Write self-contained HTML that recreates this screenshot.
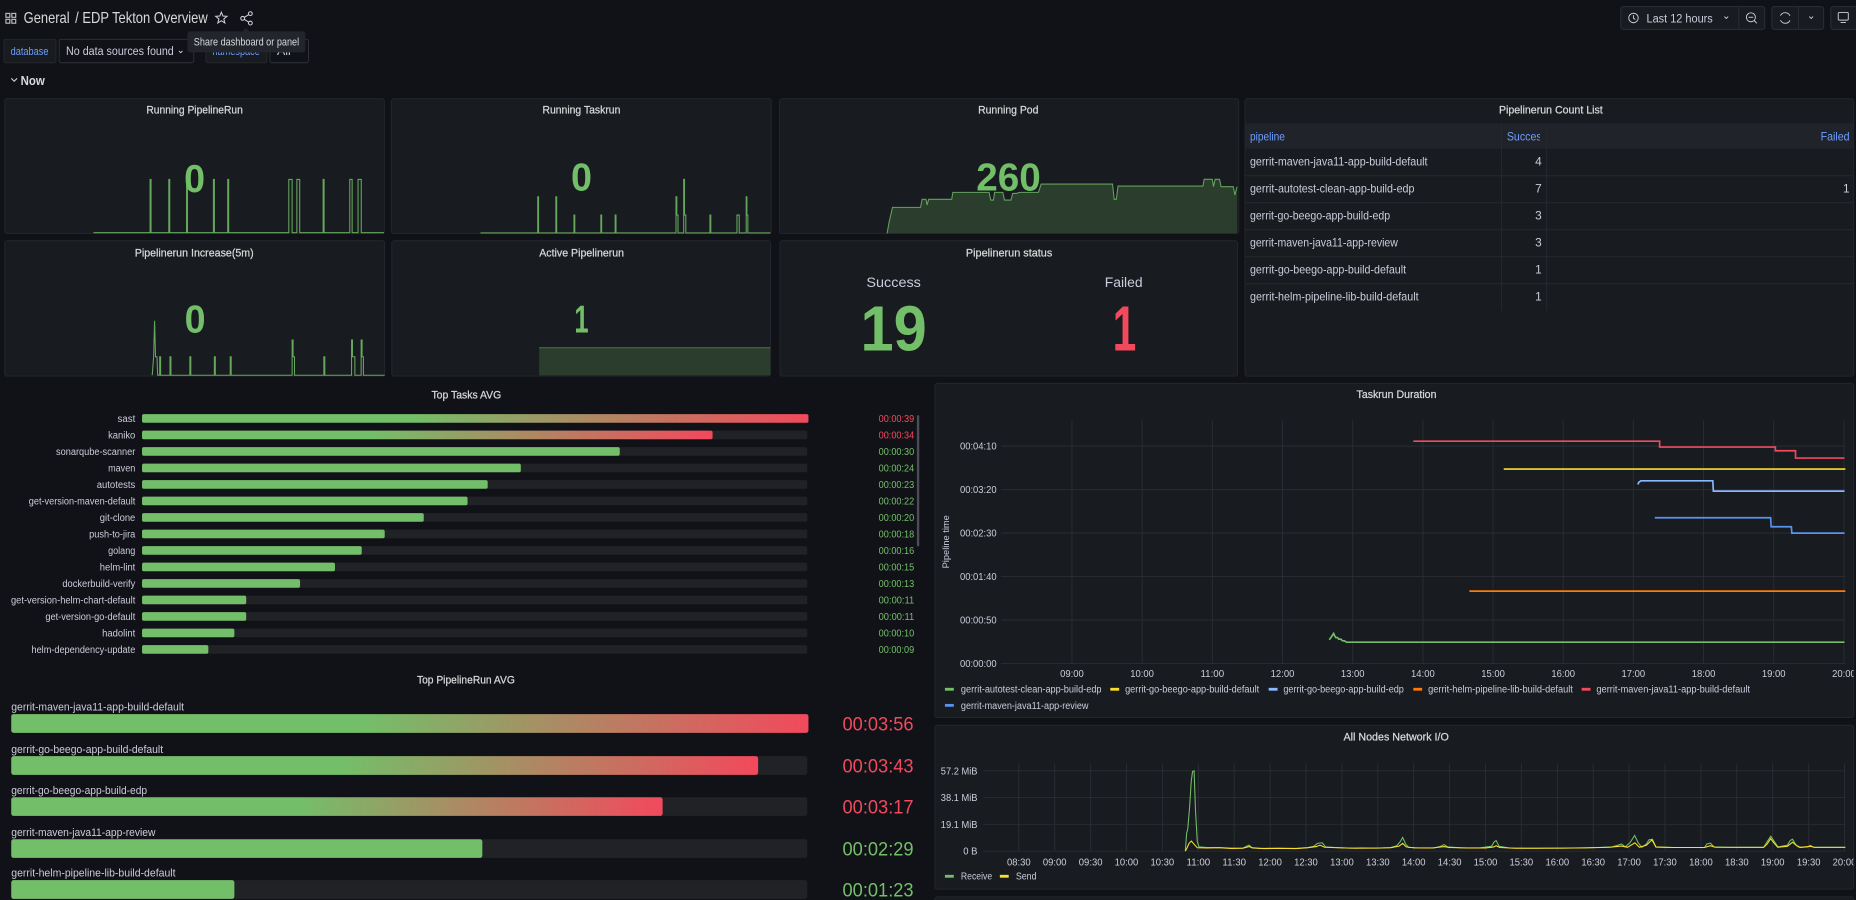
<!DOCTYPE html>
<html><head><meta charset="utf-8"><style>
html,body{margin:0;padding:0;background:#111217;overflow:hidden;}
svg{display:block;}
text{font-family:"Liberation Sans",sans-serif;}
</style></head><body>
<svg width="1856" height="900" viewBox="0 0 1568 760.34" xmlns="http://www.w3.org/2000/svg">
<defs>
<linearGradient id="g1" x1="0" y1="0" x2="1" y2="0"><stop offset="0" stop-color="#73bf69"/><stop offset="0.4" stop-color="#73bf69"/><stop offset="1" stop-color="#f2495c"/></linearGradient>
<linearGradient id="g2" x1="0" y1="0" x2="1" y2="0"><stop offset="0" stop-color="#73bf69"/><stop offset="0.44" stop-color="#73bf69"/><stop offset="1" stop-color="#f2495c"/></linearGradient>
<clipPath id="cTR"><rect x="790" y="324" width="776" height="282"/></clipPath>
<clipPath id="cNW"><rect x="790" y="613" width="776" height="138"/></clipPath>
<clipPath id="cHd"><rect x="1269" y="104" width="32" height="22"/></clipPath>
</defs>
<rect x="0" y="0" width="1568" height="761" fill="#111217"/>

<!-- Header -->
<g fill="none" stroke="#c7c8cc" stroke-width="0.9">
<rect x="5" y="11.3" width="3.3" height="3.3"/><rect x="10" y="11.3" width="3.3" height="3.3"/>
<rect x="5" y="16.3" width="3.3" height="3.3"/><rect x="10" y="16.3" width="3.3" height="3.3"/>
</g>
<text x="20" y="19.6" font-size="13" fill="#d8d9da" textLength="38.8" lengthAdjust="spacingAndGlyphs">General</text>
<text x="63.5" y="19.6" font-size="13" fill="#d8d9da" textLength="112" lengthAdjust="spacingAndGlyphs">/ EDP Tekton Overview</text>
<polygon points="187,10.3 188.29,13.52 191.76,13.76 189.09,15.98 189.94,19.35 187,17.5 184.06,19.35 184.91,15.98 182.24,13.76 185.71,13.52" fill="none" stroke="#ccccdc" stroke-width="0.9"/>
<g fill="none" stroke="#ccccdc" stroke-width="0.9">
<circle cx="211.5" cy="11.5" r="1.6"/><circle cx="205" cy="15.5" r="1.6"/><circle cx="211.5" cy="19.5" r="1.6"/>
<line x1="206.4" y1="14.7" x2="210.1" y2="12.3"/><line x1="206.4" y1="16.3" x2="210.1" y2="18.7"/>
</g>

<!-- Variables row -->
<rect x="3.3" y="33.2" width="44" height="19.8" rx="1.5" fill="#181b1f" stroke="#25282e" stroke-width="0.8"/>
<text x="9" y="46.3" font-size="9" fill="#6e9fff" textLength="32" lengthAdjust="spacingAndGlyphs">database</text>
<rect x="50" y="33.2" width="113.7" height="19.8" rx="1.5" fill="#111217" stroke="#2f3238" stroke-width="0.8"/>
<text x="55.8" y="46.5" font-size="10.5" fill="#ccccdc" textLength="91" lengthAdjust="spacingAndGlyphs">No data sources found</text>
<polyline points="151.2,43 152.7,44.5 154.2,43" fill="none" stroke="#ccccdc" stroke-width="0.8"/>
<rect x="174" y="33.2" width="51.5" height="19.8" rx="1.5" fill="#181b1f" stroke="#25282e" stroke-width="0.8"/>
<text x="179.5" y="46.3" font-size="9" fill="#6e9fff" textLength="40" lengthAdjust="spacingAndGlyphs">namespace</text>
<rect x="228" y="33.2" width="32.6" height="19.8" rx="1.5" fill="#111217" stroke="#2f3238" stroke-width="0.8"/>
<text x="234" y="46.5" font-size="10.5" fill="#ccccdc">All</text>
<!-- tooltip -->
<polygon points="204.8,26.6 207.8,23.6 210.8,26.6" fill="#22252b"/>
<rect x="158.4" y="26.5" width="99.6" height="17.7" rx="2" fill="#22252b"/>
<text x="163.7" y="38.6" font-size="9" fill="#d8d9da" textLength="89" lengthAdjust="spacingAndGlyphs">Share dashboard or panel</text>

<!-- Now row -->
<polyline points="9.6,66.2 12,68.6 14.4,66.2" fill="none" stroke="#d8d9da" stroke-width="0.9"/>
<text x="17.4" y="71.6" font-size="11" font-weight="bold" fill="#d8d9da" textLength="20.4" lengthAdjust="spacingAndGlyphs">Now</text>

<!-- Top right controls -->
<rect x="1369.3" y="5.6" width="121.6" height="19.2" rx="2" fill="#181b1f" stroke="#2c2f36" stroke-width="0.8"/>
<line x1="1469" y1="5.6" x2="1469" y2="24.8" stroke="#2c2f36" stroke-width="0.8"/>
<circle cx="1380" cy="15.2" r="4" fill="none" stroke="#ccccdc" stroke-width="0.8"/>
<polyline points="1380,12.8 1380,15.4 1381.6,16.4" fill="none" stroke="#ccccdc" stroke-width="0.8"/>
<text x="1391" y="18.9" font-size="10.5" fill="#ccccdc" textLength="56" lengthAdjust="spacingAndGlyphs">Last 12 hours</text>
<polyline points="1456.8,14 1458.4,15.6 1460,14" fill="none" stroke="#ccccdc" stroke-width="0.8"/>
<circle cx="1479.2" cy="14.6" r="3.8" fill="none" stroke="#ccccdc" stroke-width="0.8"/>
<line x1="1481.9" y1="17.3" x2="1484.3" y2="19.7" stroke="#ccccdc" stroke-width="0.8"/>
<line x1="1477.2" y1="14.6" x2="1481.2" y2="14.6" stroke="#ccccdc" stroke-width="0.8"/>
<rect x="1496.9" y="5.6" width="43.8" height="19.2" rx="2" fill="#181b1f" stroke="#2c2f36" stroke-width="0.8"/>
<line x1="1519.5" y1="5.6" x2="1519.5" y2="24.8" stroke="#2c2f36" stroke-width="0.8"/>
<path d="M1504.2,13.2 A4.4,4.4 0 0 1 1512.2,13.4 M1512.2,17.2 A4.4,4.4 0 0 1 1504.2,17" fill="none" stroke="#ccccdc" stroke-width="0.8"/>
<polyline points="1528.5,14 1530.1,15.6 1531.7,14" fill="none" stroke="#ccccdc" stroke-width="0.8"/>
<rect x="1546.7" y="5.6" width="22" height="19.2" rx="2" fill="#181b1f" stroke="#2c2f36" stroke-width="0.8"/>
<rect x="1553" y="10.5" width="8.5" height="6.5" rx="1" fill="none" stroke="#ccccdc" stroke-width="0.8"/>
<line x1="1555" y1="19" x2="1559.5" y2="19" stroke="#ccccdc" stroke-width="0.8"/>

<!-- Panels backgrounds -->
<g fill="#181b1f" stroke="#24272d" stroke-width="0.8">
<rect x="4" y="83.4" width="320.7" height="113.8" rx="2"/>
<rect x="330.6" y="83.4" width="321" height="113.8" rx="2"/>
<rect x="658.5" y="83.4" width="388" height="113.8" rx="2"/>
<rect x="1051.8" y="83.4" width="514.2" height="234.4" rx="2"/>
<rect x="4" y="203.4" width="321" height="114.3" rx="2"/>
<rect x="331" y="203.4" width="320" height="114.3" rx="2"/>
<rect x="659" y="203.4" width="386.5" height="114.3" rx="2"/>
<rect x="789.8" y="323.9" width="776.2" height="282.3" rx="2"/>
<rect x="789.8" y="612.7" width="776.2" height="138.5" rx="2"/>
<rect x="789.8" y="757.7" width="776.2" height="10" rx="2"/>
</g>

<!-- Panel titles -->
<g font-size="9.5" fill="#d8d9da" stroke="#d8d9da" stroke-width="0.2" text-anchor="middle">
<text x="164.4" y="95.8" textLength="81.5" lengthAdjust="spacingAndGlyphs">Running PipelineRun</text>
<text x="491.2" y="95.8" textLength="65.8" lengthAdjust="spacingAndGlyphs">Running Taskrun</text>
<text x="851.8" y="95.8" textLength="51" lengthAdjust="spacingAndGlyphs">Running Pod</text>
<text x="1310.2" y="95.8" textLength="87.7" lengthAdjust="spacingAndGlyphs">Pipelinerun Count List</text>
<text x="164.1" y="216.6" textLength="100.5" lengthAdjust="spacingAndGlyphs">Pipelinerun Increase(5m)</text>
<text x="491.4" y="216.6" textLength="71.7" lengthAdjust="spacingAndGlyphs">Active Pipelinerun</text>
<text x="852.5" y="216.6" textLength="73" lengthAdjust="spacingAndGlyphs">Pipelinerun status</text>
<text x="394" y="336.5" textLength="59" lengthAdjust="spacingAndGlyphs">Top Tasks AVG</text>
<text x="1179.8" y="336.4" textLength="67.5" lengthAdjust="spacingAndGlyphs">Taskrun Duration</text>
<text x="1179.5" y="625.5" textLength="89" lengthAdjust="spacingAndGlyphs">All Nodes Network I/O</text>
<text x="393.6" y="577.4" textLength="82.7" lengthAdjust="spacingAndGlyphs">Top PipelineRun AVG</text>
</g>

<!-- Sparklines -->
<g fill="none" stroke="#73bf69" stroke-width="0.9" stroke-opacity="0.85">
<path d="M79,196.6 H126.8 V151.6 H127.6 V196.6 H142.6 V151.6 H143.4 V196.6 H157.6 V151.6 H158.4 V196.6 H180.3 V151.6 H181.1 V196.6 H192.4 V151.6 H193.2 V196.6 H244 V151.6 H246.8 V196.6 H250.8 V151.6 H253.2 V196.6 H273 V151.6 H273.8 V196.6 H295.5 V151.6 H297.5 V196.6 H302.5 V151.6 H305.2 V196.6 H324.5"/>
<path d="M405.9,196.8 H454.3 V166.2 H455 V196.8 H469.6 V166.2 H470.3 V196.8 H484.9 V181.7 H485.6 V196.8 H507.6 V181.7 H508.3 V196.8 H519.7 V181.7 H520.4 V196.8 H571.1 V166.2 H571.8 V181.7 H572.8 V196.8 H577.6 V151.5 H578.3 V181.7 H579.4 V196.8 H599.8 V181.7 H600.5 V196.8 H622.6 V181.7 H624.5 V196.8 H630.4 V166.2 H631 V181.7 H631.8 V196.8 H651"/>
<path d="M128.6,317 L129.8,301.4 L130.6,271 L131.4,301.4 L132.6,301.4 L133.2,317 H134.9 V301.4 H135.7 V317 H143.6 V301.4 H144.4 V317 H160.4 V301.4 H161.2 V317 H181.1 V301.4 H181.9 V317 H194.5 V301.4 H195.3 V317 H246.8 V287.3 H247.6 V301.4 H248.8 V317 H273.6 V301.4 H274.4 V317 H297 V287.3 H297.8 V301.4 H299.8 V317 H305.1 V287.3 H305.9 V301.4 H307 V317 H325"/>
</g>
<path d="M749.4,197.2 L751.2,187.3 L754,175.2 L777.7,175.2 L779,168.4 L782.3,168.4 L783.2,173.2 L784.6,168.4 L804,168.4 L805,162.5 L835.6,162.5 L837,169 L839.3,169 L840.2,162.5 L847.2,162.5 L848.6,169 L854.1,169 L855.5,163.4 L858.8,163.4 L861.1,162.5 L877.3,162.5 L879.6,155.5 L939.9,155.5 L941.3,168.4 L943.1,168.4 L944.5,157.2 L1016.3,157.2 L1017.3,151.5 L1024.2,151.5 L1025.2,157.7 L1026.6,151.5 L1030.3,151.5 L1031.6,157.7 L1041.9,157.7 L1043.3,164.8 L1045.1,157.7 L1045.1,197.2 Z" fill="#2b3d2d"/>
<path d="M749.4,197.2 L751.2,187.3 L754,175.2 L777.7,175.2 L779,168.4 L782.3,168.4 L783.2,173.2 L784.6,168.4 L804,168.4 L805,162.5 L835.6,162.5 L837,169 L839.3,169 L840.2,162.5 L847.2,162.5 L848.6,169 L854.1,169 L855.5,163.4 L858.8,163.4 L861.1,162.5 L877.3,162.5 L879.6,155.5 L939.9,155.5 L941.3,168.4 L943.1,168.4 L944.5,157.2 L1016.3,157.2 L1017.3,151.5 L1024.2,151.5 L1025.2,157.7 L1026.6,151.5 L1030.3,151.5 L1031.6,157.7 L1041.9,157.7 L1043.3,164.8 L1045.1,157.7" fill="none" stroke="#73bf69" stroke-width="0.9" stroke-opacity="0.8"/>
<rect x="455.5" y="293.5" width="195.3" height="23.6" fill="#2b3d2d"/>
<line x1="455.5" y1="293.8" x2="650.8" y2="293.8" stroke="#73bf69" stroke-opacity="0.45" stroke-width="0.9"/>

<!-- Big stat values -->
<g fill="#73bf69" text-anchor="middle" font-size="33" font-weight="bold">
<text x="164.4" y="162" textLength="17.7" lengthAdjust="spacingAndGlyphs">0</text>
<text x="491.2" y="161" textLength="17.7" lengthAdjust="spacingAndGlyphs">0</text>
<text x="852" y="161" textLength="54.5" lengthAdjust="spacingAndGlyphs">260</text>
<text x="164.8" y="281" textLength="17.7" lengthAdjust="spacingAndGlyphs">0</text>
<text x="491.2" y="281" textLength="12" lengthAdjust="spacingAndGlyphs">1</text>
</g>
<text x="755" y="242.6" font-size="12" fill="#ccccdc" text-anchor="middle" textLength="46" lengthAdjust="spacingAndGlyphs">Success</text>
<text x="949.3" y="242.6" font-size="12" fill="#ccccdc" text-anchor="middle" textLength="32" lengthAdjust="spacingAndGlyphs">Failed</text>
<text x="755" y="296.3" font-size="54" font-weight="bold" fill="#73bf69" text-anchor="middle" textLength="56" lengthAdjust="spacingAndGlyphs">19</text>
<text x="950" y="296.3" font-size="54" font-weight="bold" fill="#f2495c" text-anchor="middle" textLength="20" lengthAdjust="spacingAndGlyphs">1</text>

<!-- Count list table -->
<rect x="1052.3" y="104.2" width="513.2" height="21.4" fill="#202329"/>
<g stroke="#26292f" stroke-width="0.8">
<line x1="1052.3" y1="148.5" x2="1565.5" y2="148.5"/>
<line x1="1052.3" y1="171.3" x2="1565.5" y2="171.3"/>
<line x1="1052.3" y1="194.1" x2="1565.5" y2="194.1"/>
<line x1="1052.3" y1="216.9" x2="1565.5" y2="216.9"/>
<line x1="1052.3" y1="239.7" x2="1565.5" y2="239.7"/>
<line x1="1268.5" y1="104.2" x2="1268.5" y2="262.5"/>
<line x1="1306.7" y1="104.2" x2="1306.7" y2="262.5"/>
</g>
<text x="1056" y="118.6" font-size="10" fill="#6e9fff" textLength="29.5" lengthAdjust="spacingAndGlyphs">pipeline</text>
<g clip-path="url(#cHd)"><text x="1273" y="118.6" font-size="10" fill="#6e9fff" textLength="34" lengthAdjust="spacingAndGlyphs">Success</text></g>
<text x="1562.6" y="118.6" font-size="10" fill="#6e9fff" text-anchor="end" textLength="24.5" lengthAdjust="spacingAndGlyphs">Failed</text>
<g font-size="10" fill="#ccccdc">
<text x="1056" y="139.8" textLength="150" lengthAdjust="spacingAndGlyphs">gerrit-maven-java11-app-build-default</text>
<text x="1056" y="162.7" textLength="139" lengthAdjust="spacingAndGlyphs">gerrit-autotest-clean-app-build-edp</text>
<text x="1056" y="185.5" textLength="118.4" lengthAdjust="spacingAndGlyphs">gerrit-go-beego-app-build-edp</text>
<text x="1056" y="208.3" textLength="125" lengthAdjust="spacingAndGlyphs">gerrit-maven-java11-app-review</text>
<text x="1056" y="231.1" textLength="131.9" lengthAdjust="spacingAndGlyphs">gerrit-go-beego-app-build-default</text>
<text x="1056" y="253.9" textLength="142.5" lengthAdjust="spacingAndGlyphs">gerrit-helm-pipeline-lib-build-default</text>
</g>
<g font-size="10" fill="#ccccdc" text-anchor="end">
<text x="1302.5" y="139.8">4</text>
<text x="1302.5" y="162.7">7</text>
<text x="1302.5" y="185.5">3</text>
<text x="1302.5" y="208.3">3</text>
<text x="1302.5" y="231.1">1</text>
<text x="1302.5" y="253.9">1</text>
<text x="1562.6" y="162.7">1</text>
</g>

<!-- Top Tasks AVG -->
<g fill="#202226">
<rect x="120" y="349.85" width="562" height="7.3" rx="1.5"/>
<rect x="120" y="363.79" width="562" height="7.3" rx="1.5"/>
<rect x="120" y="377.73" width="562" height="7.3" rx="1.5"/>
<rect x="120" y="391.67" width="562" height="7.3" rx="1.5"/>
<rect x="120" y="405.61" width="562" height="7.3" rx="1.5"/>
<rect x="120" y="419.55" width="562" height="7.3" rx="1.5"/>
<rect x="120" y="433.49" width="562" height="7.3" rx="1.5"/>
<rect x="120" y="447.43" width="562" height="7.3" rx="1.5"/>
<rect x="120" y="461.37" width="562" height="7.3" rx="1.5"/>
<rect x="120" y="475.31" width="562" height="7.3" rx="1.5"/>
<rect x="120" y="489.25" width="562" height="7.3" rx="1.5"/>
<rect x="120" y="503.19" width="562" height="7.3" rx="1.5"/>
<rect x="120" y="517.13" width="562" height="7.3" rx="1.5"/>
<rect x="120" y="531.07" width="562" height="7.3" rx="1.5"/>
<rect x="120" y="545.01" width="562" height="7.3" rx="1.5"/>
</g>
<rect x="120" y="349.85" width="563" height="7.3" rx="1.5" fill="url(#g1)"/>
<rect x="120" y="363.79" width="482" height="7.3" rx="1.5" fill="url(#g1)"/>
<g fill="#73bf69">
<rect x="120" y="377.73" width="403.6" height="7.3" rx="1.5"/>
<rect x="120" y="391.67" width="320" height="7.3" rx="1.5"/>
<rect x="120" y="405.61" width="292" height="7.3" rx="1.5"/>
<rect x="120" y="419.55" width="275" height="7.3" rx="1.5"/>
<rect x="120" y="433.49" width="238" height="7.3" rx="1.5"/>
<rect x="120" y="447.43" width="205" height="7.3" rx="1.5"/>
<rect x="120" y="461.37" width="185.6" height="7.3" rx="1.5"/>
<rect x="120" y="475.31" width="163" height="7.3" rx="1.5"/>
<rect x="120" y="489.25" width="133.5" height="7.3" rx="1.5"/>
<rect x="120" y="503.19" width="88" height="7.3" rx="1.5"/>
<rect x="120" y="517.13" width="88" height="7.3" rx="1.5"/>
<rect x="120" y="531.07" width="78" height="7.3" rx="1.5"/>
<rect x="120" y="545.01" width="56" height="7.3" rx="1.5"/>
</g>
<g font-size="8.5" fill="#ccccdc" text-anchor="end">
<text x="114.3" y="356.5" textLength="15" lengthAdjust="spacingAndGlyphs">sast</text>
<text x="114.3" y="370.44" textLength="23" lengthAdjust="spacingAndGlyphs">kaniko</text>
<text x="114.3" y="384.38" textLength="67" lengthAdjust="spacingAndGlyphs">sonarqube-scanner</text>
<text x="114.3" y="398.32" textLength="23" lengthAdjust="spacingAndGlyphs">maven</text>
<text x="114.3" y="412.26" textLength="32.6" lengthAdjust="spacingAndGlyphs">autotests</text>
<text x="114.3" y="426.2" textLength="90" lengthAdjust="spacingAndGlyphs">get-version-maven-default</text>
<text x="114.3" y="440.14" textLength="30" lengthAdjust="spacingAndGlyphs">git-clone</text>
<text x="114.3" y="454.08" textLength="39" lengthAdjust="spacingAndGlyphs">push-to-jira</text>
<text x="114.3" y="468.02" textLength="23" lengthAdjust="spacingAndGlyphs">golang</text>
<text x="114.3" y="481.96" textLength="30" lengthAdjust="spacingAndGlyphs">helm-lint</text>
<text x="114.3" y="495.9" textLength="61.6" lengthAdjust="spacingAndGlyphs">dockerbuild-verify</text>
<text x="114.3" y="509.84" textLength="105" lengthAdjust="spacingAndGlyphs">get-version-helm-chart-default</text>
<text x="114.3" y="523.78" textLength="76" lengthAdjust="spacingAndGlyphs">get-version-go-default</text>
<text x="114.3" y="537.72" textLength="28" lengthAdjust="spacingAndGlyphs">hadolint</text>
<text x="114.3" y="551.66" textLength="87.7" lengthAdjust="spacingAndGlyphs">helm-dependency-update</text>
</g>
<g font-size="8.5" text-anchor="end">
<text x="772.3" y="356.5" fill="#f2495c" textLength="30" lengthAdjust="spacingAndGlyphs">00:00:39</text>
<text x="772.3" y="370.44" fill="#f2495c" textLength="30" lengthAdjust="spacingAndGlyphs">00:00:34</text>
<text x="772.3" y="384.38" fill="#73bf69" textLength="30" lengthAdjust="spacingAndGlyphs">00:00:30</text>
<text x="772.3" y="398.32" fill="#73bf69" textLength="30" lengthAdjust="spacingAndGlyphs">00:00:24</text>
<text x="772.3" y="412.26" fill="#73bf69" textLength="30" lengthAdjust="spacingAndGlyphs">00:00:23</text>
<text x="772.3" y="426.2" fill="#73bf69" textLength="30" lengthAdjust="spacingAndGlyphs">00:00:22</text>
<text x="772.3" y="440.14" fill="#73bf69" textLength="30" lengthAdjust="spacingAndGlyphs">00:00:20</text>
<text x="772.3" y="454.08" fill="#73bf69" textLength="30" lengthAdjust="spacingAndGlyphs">00:00:18</text>
<text x="772.3" y="468.02" fill="#73bf69" textLength="30" lengthAdjust="spacingAndGlyphs">00:00:16</text>
<text x="772.3" y="481.96" fill="#73bf69" textLength="30" lengthAdjust="spacingAndGlyphs">00:00:15</text>
<text x="772.3" y="495.9" fill="#73bf69" textLength="30" lengthAdjust="spacingAndGlyphs">00:00:13</text>
<text x="772.3" y="509.84" fill="#73bf69" textLength="30" lengthAdjust="spacingAndGlyphs">00:00:11</text>
<text x="772.3" y="523.78" fill="#73bf69" textLength="30" lengthAdjust="spacingAndGlyphs">00:00:11</text>
<text x="772.3" y="537.72" fill="#73bf69" textLength="30" lengthAdjust="spacingAndGlyphs">00:00:10</text>
<text x="772.3" y="551.66" fill="#73bf69" textLength="30" lengthAdjust="spacingAndGlyphs">00:00:09</text>
</g>
<rect x="774.6" y="350.7" width="2" height="111" rx="1" fill="#4a4d55"/>

<!-- Top PipelineRun AVG -->
<g fill="#202226">
<rect x="9.5" y="603.3" width="672.5" height="15.8" rx="2"/>
<rect x="9.5" y="638.8" width="672.5" height="15.8" rx="2"/>
<rect x="9.5" y="673.5" width="672.5" height="15.8" rx="2"/>
<rect x="9.5" y="709" width="672.5" height="15.8" rx="2"/>
<rect x="9.5" y="743.6" width="672.5" height="15.8" rx="2"/>
</g>
<rect x="9.5" y="603.3" width="673.5" height="15.8" rx="2" fill="url(#g2)"/>
<rect x="9.5" y="638.8" width="631" height="15.8" rx="2" fill="url(#g2)"/>
<rect x="9.5" y="673.5" width="550.3" height="15.8" rx="2" fill="url(#g2)"/>
<rect x="9.5" y="709" width="398" height="15.8" rx="2" fill="#73bf69"/>
<rect x="9.5" y="743.6" width="188.5" height="15.8" rx="2" fill="#73bf69"/>
<g font-size="9" fill="#ccccdc">
<text x="9.5" y="600.3" textLength="146" lengthAdjust="spacingAndGlyphs">gerrit-maven-java11-app-build-default</text>
<text x="9.5" y="636.1" textLength="128.3" lengthAdjust="spacingAndGlyphs">gerrit-go-beego-app-build-default</text>
<text x="9.5" y="670.8" textLength="114.8" lengthAdjust="spacingAndGlyphs">gerrit-go-beego-app-build-edp</text>
<text x="9.5" y="706.2" textLength="121.8" lengthAdjust="spacingAndGlyphs">gerrit-maven-java11-app-review</text>
<text x="9.5" y="740.3" textLength="138.8" lengthAdjust="spacingAndGlyphs">gerrit-helm-pipeline-lib-build-default</text>
</g>
<g font-size="16" text-anchor="end">
<text x="771.8" y="617" fill="#f2495c" textLength="60" lengthAdjust="spacingAndGlyphs">00:03:56</text>
<text x="771.8" y="652.5" fill="#f2495c" textLength="60" lengthAdjust="spacingAndGlyphs">00:03:43</text>
<text x="771.8" y="687.2" fill="#f2495c" textLength="60" lengthAdjust="spacingAndGlyphs">00:03:17</text>
<text x="771.8" y="722.7" fill="#73bf69" textLength="60" lengthAdjust="spacingAndGlyphs">00:02:29</text>
<text x="771.8" y="757.3" fill="#73bf69" textLength="60" lengthAdjust="spacingAndGlyphs">00:01:23</text>
</g>

<!-- Taskrun Duration chart -->
<g clip-path="url(#cTR)">
<g stroke="#2a2d33" stroke-width="0.8">
<line x1="845.7" y1="376.9" x2="1559" y2="376.9"/>
<line x1="845.7" y1="413.6" x2="1559" y2="413.6"/>
<line x1="845.7" y1="450.3" x2="1559" y2="450.3"/>
<line x1="845.7" y1="487.1" x2="1559" y2="487.1"/>
<line x1="845.7" y1="523.8" x2="1559" y2="523.8"/>
<line x1="845.7" y1="560.5" x2="1559" y2="560.5"/>
<line x1="905.6" y1="355" x2="905.6" y2="560.5"/>
<line x1="964.9" y1="355" x2="964.9" y2="560.5"/>
<line x1="1024.2" y1="355" x2="1024.2" y2="560.5"/>
<line x1="1083.5" y1="355" x2="1083.5" y2="560.5"/>
<line x1="1142.8" y1="355" x2="1142.8" y2="560.5"/>
<line x1="1202.1" y1="355" x2="1202.1" y2="560.5"/>
<line x1="1261.4" y1="355" x2="1261.4" y2="560.5"/>
<line x1="1320.6" y1="355" x2="1320.6" y2="560.5"/>
<line x1="1379.9" y1="355" x2="1379.9" y2="560.5"/>
<line x1="1439.2" y1="355" x2="1439.2" y2="560.5"/>
<line x1="1498.5" y1="355" x2="1498.5" y2="560.5"/>
<line x1="1557.8" y1="355" x2="1557.8" y2="560.5"/>
</g>
<g font-size="8.5" fill="#ccccdc" text-anchor="end">
<text x="842" y="379.9" textLength="31" lengthAdjust="spacingAndGlyphs">00:04:10</text>
<text x="842" y="416.6" textLength="31" lengthAdjust="spacingAndGlyphs">00:03:20</text>
<text x="842" y="453.3" textLength="31" lengthAdjust="spacingAndGlyphs">00:02:30</text>
<text x="842" y="490.1" textLength="31" lengthAdjust="spacingAndGlyphs">00:01:40</text>
<text x="842" y="526.8" textLength="31" lengthAdjust="spacingAndGlyphs">00:00:50</text>
<text x="842" y="563.5" textLength="31" lengthAdjust="spacingAndGlyphs">00:00:00</text>
</g>
<g font-size="8.5" fill="#ccccdc" text-anchor="middle">
<text x="905.6" y="572" textLength="20" lengthAdjust="spacingAndGlyphs">09:00</text>
<text x="964.9" y="572" textLength="20" lengthAdjust="spacingAndGlyphs">10:00</text>
<text x="1024.2" y="572" textLength="20" lengthAdjust="spacingAndGlyphs">11:00</text>
<text x="1083.5" y="572" textLength="20" lengthAdjust="spacingAndGlyphs">12:00</text>
<text x="1142.8" y="572" textLength="20" lengthAdjust="spacingAndGlyphs">13:00</text>
<text x="1202.1" y="572" textLength="20" lengthAdjust="spacingAndGlyphs">14:00</text>
<text x="1261.4" y="572" textLength="20" lengthAdjust="spacingAndGlyphs">15:00</text>
<text x="1320.6" y="572" textLength="20" lengthAdjust="spacingAndGlyphs">16:00</text>
<text x="1379.9" y="572" textLength="20" lengthAdjust="spacingAndGlyphs">17:00</text>
<text x="1439.2" y="572" textLength="20" lengthAdjust="spacingAndGlyphs">18:00</text>
<text x="1498.5" y="572" textLength="20" lengthAdjust="spacingAndGlyphs">19:00</text>
<text x="1557.8" y="572" textLength="20" lengthAdjust="spacingAndGlyphs">20:00</text>
</g>
<text transform="translate(801.6,457.7) rotate(-90)" font-size="7.5" fill="#ccccdc" text-anchor="middle" textLength="45" lengthAdjust="spacingAndGlyphs">Pipeline time</text>
<g fill="none" stroke-width="1.4">
<polyline stroke="#f2495c" points="1194,372.7 1402.1,372.7 1402.1,377.7 1499.9,377.7 1499.9,380.8 1516.9,380.8 1516.9,387 1558.3,387"/>
<polyline stroke="#fade2a" points="1270.4,396.3 1559,396.3"/>
<polyline stroke="#8ab8ff" points="1383.7,409.3 1384.5,407.5 1386.3,406.2 1447,406.2 1447.5,414.9 1558.3,414.9"/>
<polyline stroke="#5794f2" points="1398,437.4 1495.9,437.4 1496.3,445 1513.4,445 1513.8,450.4 1558.3,450.4"/>
<polyline stroke="#ff780a" points="1241.4,499.4 1559,499.4"/>
<polyline stroke="#73bf69" points="1123,540.5 1124.5,538.5 1125.5,537 1126.7,535.2 1127.5,537 1128.5,538.6 1130,538.6 1131,540 1133,540 1134,541.3 1136,541.5 1137.5,542.5 1558.3,542.5"/>
</g>
<rect x="798.3" y="581.1" width="7.5" height="2.4" fill="#73bf69"/>
<rect x="938" y="581.1" width="7.5" height="2.4" fill="#fade2a"/>
<rect x="1071.8" y="581.1" width="7.5" height="2.4" fill="#8ab8ff"/>
<rect x="1194" y="581.1" width="7.5" height="2.4" fill="#ff780a"/>
<rect x="1336.2" y="581.1" width="7.5" height="2.4" fill="#f2495c"/>
<rect x="798.3" y="594.7" width="7.5" height="2.4" fill="#5794f2"/>
<g font-size="8.5" fill="#ccccdc">
<text x="811.8" y="585.2" textLength="118.8" lengthAdjust="spacingAndGlyphs">gerrit-autotest-clean-app-build-edp</text>
<text x="950.5" y="585.2" textLength="113.3" lengthAdjust="spacingAndGlyphs">gerrit-go-beego-app-build-default</text>
<text x="1084.2" y="585.2" textLength="101.8" lengthAdjust="spacingAndGlyphs">gerrit-go-beego-app-build-edp</text>
<text x="1206.5" y="585.2" textLength="122.3" lengthAdjust="spacingAndGlyphs">gerrit-helm-pipeline-lib-build-default</text>
<text x="1348.7" y="585.2" textLength="129.8" lengthAdjust="spacingAndGlyphs">gerrit-maven-java11-app-build-default</text>
<text x="811.8" y="598.8" textLength="107.8" lengthAdjust="spacingAndGlyphs">gerrit-maven-java11-app-review</text>
</g>
</g>

<!-- Network I/O chart -->
<g clip-path="url(#cNW)">
<g stroke="#2a2d33" stroke-width="0.8">
<line x1="830.8" y1="651.2" x2="1559" y2="651.2"/>
<line x1="830.8" y1="673.8" x2="1559" y2="673.8"/>
<line x1="830.8" y1="696.4" x2="1559" y2="696.4"/>
<line x1="830.8" y1="719.1" x2="1559" y2="719.1"/>
<line x1="860.7" y1="645" x2="860.7" y2="719.1"/>
<line x1="891.0" y1="645" x2="891.0" y2="719.1"/>
<line x1="921.4" y1="645" x2="921.4" y2="719.1"/>
<line x1="951.7" y1="645" x2="951.7" y2="719.1"/>
<line x1="982.0" y1="645" x2="982.0" y2="719.1"/>
<line x1="1012.4" y1="645" x2="1012.4" y2="719.1"/>
<line x1="1042.7" y1="645" x2="1042.7" y2="719.1"/>
<line x1="1073.0" y1="645" x2="1073.0" y2="719.1"/>
<line x1="1103.3" y1="645" x2="1103.3" y2="719.1"/>
<line x1="1133.7" y1="645" x2="1133.7" y2="719.1"/>
<line x1="1164.0" y1="645" x2="1164.0" y2="719.1"/>
<line x1="1194.3" y1="645" x2="1194.3" y2="719.1"/>
<line x1="1224.7" y1="645" x2="1224.7" y2="719.1"/>
<line x1="1255.0" y1="645" x2="1255.0" y2="719.1"/>
<line x1="1285.3" y1="645" x2="1285.3" y2="719.1"/>
<line x1="1315.7" y1="645" x2="1315.7" y2="719.1"/>
<line x1="1346.0" y1="645" x2="1346.0" y2="719.1"/>
<line x1="1376.3" y1="645" x2="1376.3" y2="719.1"/>
<line x1="1406.6" y1="645" x2="1406.6" y2="719.1"/>
<line x1="1437.0" y1="645" x2="1437.0" y2="719.1"/>
<line x1="1467.3" y1="645" x2="1467.3" y2="719.1"/>
<line x1="1497.6" y1="645" x2="1497.6" y2="719.1"/>
<line x1="1528.0" y1="645" x2="1528.0" y2="719.1"/>
<line x1="1558.3" y1="645" x2="1558.3" y2="719.1"/>
</g>
<g font-size="8.5" fill="#ccccdc" text-anchor="end">
<text x="825.8" y="654.2" textLength="31" lengthAdjust="spacingAndGlyphs">57.2 MiB</text>
<text x="825.8" y="676.8" textLength="31" lengthAdjust="spacingAndGlyphs">38.1 MiB</text>
<text x="825.8" y="699.4" textLength="31" lengthAdjust="spacingAndGlyphs">19.1 MiB</text>
<text x="825.8" y="722.1" textLength="12" lengthAdjust="spacingAndGlyphs">0 B</text>
</g>
<g font-size="8.5" fill="#ccccdc" text-anchor="middle">
<text x="860.7" y="731.2" textLength="20" lengthAdjust="spacingAndGlyphs">08:30</text>
<text x="891.0" y="731.2" textLength="20" lengthAdjust="spacingAndGlyphs">09:00</text>
<text x="921.4" y="731.2" textLength="20" lengthAdjust="spacingAndGlyphs">09:30</text>
<text x="951.7" y="731.2" textLength="20" lengthAdjust="spacingAndGlyphs">10:00</text>
<text x="982.0" y="731.2" textLength="20" lengthAdjust="spacingAndGlyphs">10:30</text>
<text x="1012.4" y="731.2" textLength="20" lengthAdjust="spacingAndGlyphs">11:00</text>
<text x="1042.7" y="731.2" textLength="20" lengthAdjust="spacingAndGlyphs">11:30</text>
<text x="1073.0" y="731.2" textLength="20" lengthAdjust="spacingAndGlyphs">12:00</text>
<text x="1103.3" y="731.2" textLength="20" lengthAdjust="spacingAndGlyphs">12:30</text>
<text x="1133.7" y="731.2" textLength="20" lengthAdjust="spacingAndGlyphs">13:00</text>
<text x="1164.0" y="731.2" textLength="20" lengthAdjust="spacingAndGlyphs">13:30</text>
<text x="1194.3" y="731.2" textLength="20" lengthAdjust="spacingAndGlyphs">14:00</text>
<text x="1224.7" y="731.2" textLength="20" lengthAdjust="spacingAndGlyphs">14:30</text>
<text x="1255.0" y="731.2" textLength="20" lengthAdjust="spacingAndGlyphs">15:00</text>
<text x="1285.3" y="731.2" textLength="20" lengthAdjust="spacingAndGlyphs">15:30</text>
<text x="1315.7" y="731.2" textLength="20" lengthAdjust="spacingAndGlyphs">16:00</text>
<text x="1346.0" y="731.2" textLength="20" lengthAdjust="spacingAndGlyphs">16:30</text>
<text x="1376.3" y="731.2" textLength="20" lengthAdjust="spacingAndGlyphs">17:00</text>
<text x="1406.6" y="731.2" textLength="20" lengthAdjust="spacingAndGlyphs">17:30</text>
<text x="1437.0" y="731.2" textLength="20" lengthAdjust="spacingAndGlyphs">18:00</text>
<text x="1467.3" y="731.2" textLength="20" lengthAdjust="spacingAndGlyphs">18:30</text>
<text x="1497.6" y="731.2" textLength="20" lengthAdjust="spacingAndGlyphs">19:00</text>
<text x="1528.0" y="731.2" textLength="20" lengthAdjust="spacingAndGlyphs">19:30</text>
<text x="1558.3" y="731.2" textLength="20" lengthAdjust="spacingAndGlyphs">20:00</text>
</g>
<polyline fill="none" stroke="#73bf69" stroke-width="0.9" points="1001.4,719 1002.5,704 1003.5,700 1005,682 1006.4,660 1007.5,651.8 1008.8,651.2 1010,685 1011.5,711 1013,715.5 1020,716 1030,716 1040,716.5 1050,716.5 1053,715 1055.3,714 1057.5,716 1065,716.8 1075,716.6 1085,716.8 1095,716.8 1105,716 1110,715 1113,712.5 1117,712 1120,715.5 1128,716 1140,716.5 1150,716.3 1165,716.5 1175,716 1180,714.5 1183,711 1185,707.5 1187.5,713 1190,716 1200,716.3 1212,716.3 1217,715 1220,713.5 1223,715.5 1235,716.3 1250,716.3 1260,715 1262.5,711 1264,710.2 1266.5,715 1275,716.4 1290,716.6 1305,716.5 1320,716.5 1335,716.3 1350,716 1362,715.5 1367,714 1370,713 1373,715.5 1377,712 1381,705.8 1384,712 1387,715.8 1391,713 1393,709.5 1396,709 1399,715.5 1410,716 1425,716 1440,716 1442,713 1445,712.3 1448,715.5 1460,715.8 1475,715.8 1490,715.8 1493,711 1496,706.5 1499,711 1502,715.5 1510,714 1512.5,710 1514.4,709 1517,713.5 1520,715.8 1527,715.5 1529.5,714.2 1532,715.8 1545,715.8 1559,715.8"/>
<polyline fill="none" stroke="#fade2a" stroke-width="0.9" points="1001.4,719 1003,716 1004.5,712.5 1006.5,710.5 1009,713.5 1011.5,716.2 1020,716.4 1030,716.2 1040,716.8 1050,716.6 1055.3,715.2 1058,716.4 1068,716.9 1080,716.7 1095,716.9 1105,716.2 1112,715.2 1115.2,714 1119,715.8 1130,716.2 1145,716.6 1160,716.5 1175,716.2 1182,714.8 1185,712.5 1188,715.5 1195,716.3 1210,716.4 1220,715.2 1224,716 1240,716.4 1255,716.4 1262,715.5 1264,714.5 1267,716 1280,716.6 1300,716.6 1320,716.5 1340,716.3 1360,715.8 1370,714.8 1375,715.8 1381.2,712 1385,715.8 1391,714 1395.6,709.5 1399,715.6 1415,716 1430,716 1440,716 1445,714.5 1449,715.8 1470,715.9 1490,715.9 1493,713 1495.9,708.5 1499,712.5 1502,715.8 1510,715 1514.4,711.5 1518,714.5 1521,715.9 1529.5,715 1533,715.9 1559,715.9"/>
<rect x="798.3" y="739.1" width="7.5" height="2.4" fill="#73bf69"/>
<text x="811.8" y="743.2" font-size="8.5" fill="#ccccdc" textLength="26.4" lengthAdjust="spacingAndGlyphs">Receive</text>
<rect x="844.7" y="739.1" width="7.5" height="2.4" fill="#fade2a"/>
<text x="858.2" y="743.2" font-size="8.5" fill="#ccccdc" textLength="17.5" lengthAdjust="spacingAndGlyphs">Send</text>
</g>
</svg>
</body></html>
